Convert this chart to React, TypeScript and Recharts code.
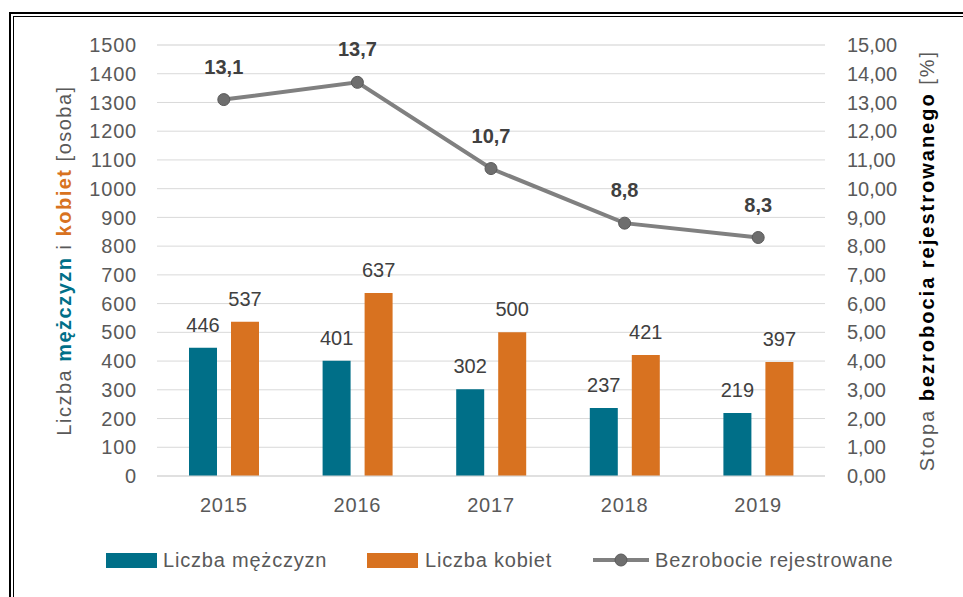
import React from 'react';
import {
  ComposedChart,
  Bar,
  Line,
  XAxis,
  YAxis,
  CartesianGrid,
  Legend,
  LabelList,
} from 'recharts';

// values
const years = ['2015', '2016', '2017', '2018', '2019'];
const men = [446, 401, 302, 237, 219];
const women = [537, 637, 500, 421, 397];
const unemployment = [13.1, 13.7, 10.7, 8.8, 8.3];

const leftTicks = [0, 100, 200, 300, 400, 500, 600, 700, 800, 900, 1000, 1100, 1200, 1300, 1400, 1500];
const rightTicks = [0, 1, 2, 3, 4, 5, 6, 7, 8, 9, 10, 11, 12, 13, 14, 15];
// light minor gridlines between the major ones
const minorTicks = Array.from({ length: 61 }, (_, i) => i * 25);

const data = years.map((year, i) => ({
  year,
  men: men[i],
  women: women[i],
  rate: unemployment[i],
}));

const TEAL = '#006F88';
const ORANGE = '#D87220';
const GREY_LINE = '#808080';
const TEXT = '#595959';
const FONT = '"Liberation Sans", Arial, sans-serif';

const comma = (v: number, d: number) => v.toFixed(d).replace('.', ',');

const LeftTitle = (props: any) => {
  const vb = props.viewBox || {};
  const cy = (vb.y ?? 45) + (vb.height ?? 431) / 2;
  return (
    <text
      x={0}
      y={0}
      transform={`translate(71, ${cy}) rotate(-90)`}
      textAnchor="middle"
      fontSize={20}
      letterSpacing={1.5}
      fontFamily={FONT}
      fill={TEXT}
    >
      <tspan>Liczba </tspan>
      <tspan fontWeight="bold" fill={TEAL}>mężczyzn</tspan>
      <tspan> i </tspan>
      <tspan fontWeight="bold" fill={ORANGE}>kobiet</tspan>
      <tspan> [osoba]</tspan>
    </text>
  );
};

const RightTitle = (props: any) => {
  const vb = props.viewBox || {};
  const cy = (vb.y ?? 45) + (vb.height ?? 431) / 2;
  return (
    <text
      x={0}
      y={0}
      transform={`translate(934, ${cy}) rotate(-90)`}
      textAnchor="middle"
      fontSize={20}
      letterSpacing={2}
      fontFamily={FONT}
      fill={TEXT}
    >
      <tspan>Stopa </tspan>
      <tspan fontWeight="bold" fill="#000000">bezrobocia  rejestrowanego</tspan>
      <tspan> [%]</tspan>
    </text>
  );
};

const legendText: React.CSSProperties = {
  position: 'absolute',
  top: 3,
  fontSize: 20,
  letterSpacing: 0.8,
  fontFamily: FONT,
  color: TEXT,
  whiteSpace: 'nowrap',
  lineHeight: '24px',
};

const LegendContent = () => (
  <div style={{ position: 'relative', width: 963, height: 30 }}>
    <div style={{ position: 'absolute', left: 106, top: 8, width: 51, height: 15, background: TEAL }} />
    <span style={{ ...legendText, left: 163 }}>Liczba mężczyzn</span>
    <div style={{ position: 'absolute', left: 367, top: 8, width: 51, height: 15, background: ORANGE }} />
    <span style={{ ...legendText, left: 425 }}>Liczba kobiet</span>
    <svg style={{ position: 'absolute', left: 593, top: 5 }} width={56} height={20}>
      <line x1={0} y1={10} x2={56} y2={10} stroke={GREY_LINE} strokeWidth={4} />
      <circle cx={28} cy={10} r={6} fill="#6E6E6E" stroke="#5A5A5A" strokeWidth={1} />
    </svg>
    <span style={{ ...legendText, left: 655 }}>Bezrobocie rejestrowane</span>
  </div>
);

const tickStyle = { fill: TEXT, fontSize: 20, fontFamily: FONT, letterSpacing: 0.8 };

export default function App() {
  return (
    <div
      style={{
        position: 'absolute',
        left: 0,
        top: 0,
        width: 963,
        height: 597,
        overflow: 'hidden',
        background: '#ffffff',
      }}
    >
      <div
        style={{
          position: 'absolute',
          left: 9,
          top: 12,
          width: 1000,
          height: 700,
          borderLeft: '2px solid #000',
          borderTop: '2px solid #000',
        }}
      />
      <div
        style={{
          position: 'absolute',
          left: 13,
          top: 16,
          width: 1000,
          height: 700,
          borderLeft: '1px solid #000',
          borderTop: '1px solid #000',
        }}
      />
      <div style={{ position: 'absolute', left: 0, top: 0 }}>
        <ComposedChart
          width={963}
          height={597}
          data={data}
          margin={{ top: 45, right: 58, left: 77, bottom: 51 }}
          barSize={28}
          barGap={14}
        >
          <YAxis yAxisId="minor" domain={[0, 1500]} ticks={minorTicks} hide />
          <CartesianGrid yAxisId="minor" vertical={false} stroke="#EBEBEB" strokeWidth={1} />
          <CartesianGrid yAxisId="left" vertical={false} stroke="#D9D9D9" strokeWidth={1} />
          <XAxis
            dataKey="year"
            tickLine={false}
            axisLine={{ stroke: '#D9D9D9' }}
            tickSize={0}
            tickMargin={22}
            height={40}
            tick={tickStyle}
          />
          <YAxis
            yAxisId="left"
            orientation="left"
            domain={[0, 1500]}
            ticks={leftTicks}
            interval={0}
            width={80}
            tickLine={false}
            axisLine={false}
            tickSize={0}
            tickMargin={20}
            tick={tickStyle}
            label={<LeftTitle />}
          />
          <YAxis
            yAxisId="right"
            orientation="right"
            domain={[0, 15]}
            ticks={rightTicks}
            interval={0}
            width={80}
            tickLine={false}
            axisLine={false}
            tickSize={0}
            tickMargin={22}
            tickFormatter={(v: number) => comma(v, 2)}
            tick={{ fill: TEXT, fontSize: 20, fontFamily: FONT }}
            label={<RightTitle />}
          />
          <Legend
            verticalAlign="bottom"
            content={<LegendContent />}
            wrapperStyle={{ left: 0, bottom: 22, width: 963, height: 30 }}
          />
          <Bar yAxisId="left" dataKey="men" name="Liczba mężczyzn" fill={TEAL} isAnimationActive={false}>
            <LabelList
              dataKey="men"
              position="top"
              offset={16}
              fill="#404040"
              fontSize={20}
              fontFamily={FONT}
            />
          </Bar>
          <Bar yAxisId="left" dataKey="women" name="Liczba kobiet" fill={ORANGE} isAnimationActive={false}>
            <LabelList
              dataKey="women"
              position="top"
              offset={16}
              fill="#404040"
              fontSize={20}
              fontFamily={FONT}
            />
          </Bar>
          <Line
            yAxisId="right"
            dataKey="rate"
            name="Bezrobocie rejestrowane"
            type="linear"
            stroke={GREY_LINE}
            strokeWidth={4}
            dot={{ r: 6, fill: '#6E6E6E', stroke: '#5A5A5A', strokeWidth: 1 }}
            isAnimationActive={false}
          >
            <LabelList
              dataKey="rate"
              position="top"
              offset={26}
              fill="#404040"
              fontSize={20}
              fontWeight="bold"
              fontFamily={FONT}
              formatter={(v: any) => comma(Number(v), 1)}
            />
          </Line>
        </ComposedChart>
      </div>
    </div>
  );
}
